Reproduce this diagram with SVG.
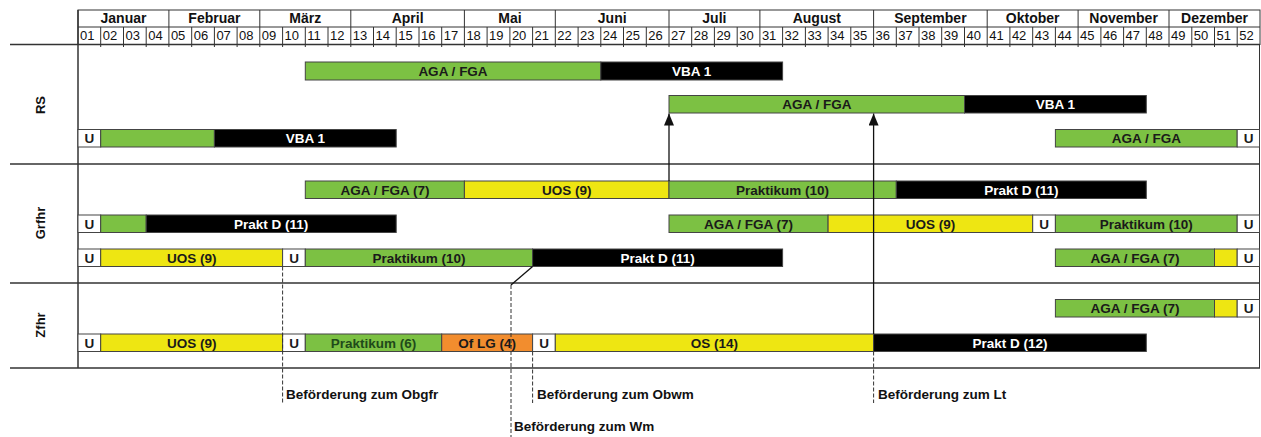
<svg xmlns="http://www.w3.org/2000/svg" width="1261" height="437" viewBox="0 0 1261 437">
<style>
.bg{fill:#ffffff}
.grid{stroke:#333;stroke-width:1;fill:none}
.sec{stroke:#333;stroke-width:1.5;fill:none}
.mon{font-family:"Liberation Sans",Arial,sans-serif;font-weight:bold;font-size:14px;fill:#111;text-anchor:middle}
.wk{font-family:"Liberation Sans",Arial,sans-serif;font-size:13px;fill:#111}
.lbl{font-family:"Liberation Sans",Arial,sans-serif;font-weight:bold;font-size:13px;fill:#111;text-anchor:middle}
.g{fill:#7cc143;stroke:#444;stroke-width:1}
.y{fill:#eee612;stroke:#444;stroke-width:1}
.k{fill:#000;stroke:#444;stroke-width:1}
.o{fill:#f28d2e;stroke:#444;stroke-width:1}
.u{fill:#fff;stroke:#444;stroke-width:1}
.t{font-family:"Liberation Sans",Arial,sans-serif;font-weight:bold;font-size:13.5px;fill:#1a1a1a;text-anchor:middle}
.tw{font-family:"Liberation Sans",Arial,sans-serif;font-weight:bold;font-size:13.5px;fill:#fff;text-anchor:middle}
.tg{font-family:"Liberation Sans",Arial,sans-serif;font-weight:bold;font-size:13.5px;fill:#1f4a1a;text-anchor:middle}
.con{stroke:#111;stroke-width:1.3;fill:none}
.dash{stroke:#333;stroke-width:1;fill:none;stroke-dasharray:4 2}
.note{font-family:"Liberation Sans",Arial,sans-serif;font-weight:bold;font-size:13.5px;fill:#111}
</style>
<defs>
<marker id="arr" markerWidth="12" markerHeight="10" refX="12" refY="5" orient="auto" markerUnits="userSpaceOnUse" viewBox="0 0 12 10">
<path d="M0,0 L12,5 L0,10 Z" fill="#111"/>
</marker>
</defs>
<rect class="bg" x="0" y="0" width="1261" height="437"/>

<g id="header">
<rect class="grid" x="78" y="10" width="1182" height="34.5"/>
<line class="grid" x1="78" y1="27" x2="1260" y2="27"/>
<g class="grid">
<line x1="168.9" y1="10" x2="168.9" y2="44.5"/><line x1="259.8" y1="10" x2="259.8" y2="44.5"/><line x1="350.8" y1="10" x2="350.8" y2="44.5"/><line x1="464.4" y1="10" x2="464.4" y2="44.5"/><line x1="555.3" y1="10" x2="555.3" y2="44.5"/><line x1="669" y1="10" x2="669" y2="44.5"/><line x1="759.9" y1="10" x2="759.9" y2="44.5"/><line x1="873.6" y1="10" x2="873.6" y2="44.5"/><line x1="987.2" y1="10" x2="987.2" y2="44.5"/><line x1="1078.1" y1="10" x2="1078.1" y2="44.5"/><line x1="1169" y1="10" x2="1169" y2="44.5"/>
<line x1="100.7" y1="27" x2="100.7" y2="47"/><line x1="123.5" y1="27" x2="123.5" y2="47"/><line x1="146.2" y1="27" x2="146.2" y2="47"/><line x1="191.7" y1="27" x2="191.7" y2="47"/><line x1="214.4" y1="27" x2="214.4" y2="47"/><line x1="237.1" y1="27" x2="237.1" y2="47"/><line x1="282.6" y1="27" x2="282.6" y2="47"/><line x1="305.3" y1="27" x2="305.3" y2="47"/><line x1="328" y1="27" x2="328" y2="47"/><line x1="373.5" y1="27" x2="373.5" y2="47"/><line x1="396.2" y1="27" x2="396.2" y2="47"/><line x1="419" y1="27" x2="419" y2="47"/><line x1="441.7" y1="27" x2="441.7" y2="47"/><line x1="487.1" y1="27" x2="487.1" y2="47"/><line x1="509.9" y1="27" x2="509.9" y2="47"/><line x1="532.6" y1="27" x2="532.6" y2="47"/><line x1="578.1" y1="27" x2="578.1" y2="47"/><line x1="600.8" y1="27" x2="600.8" y2="47"/><line x1="623.5" y1="27" x2="623.5" y2="47"/><line x1="646.3" y1="27" x2="646.3" y2="47"/><line x1="691.7" y1="27" x2="691.7" y2="47"/><line x1="714.4" y1="27" x2="714.4" y2="47"/><line x1="737.2" y1="27" x2="737.2" y2="47"/><line x1="782.6" y1="27" x2="782.6" y2="47"/><line x1="805.4" y1="27" x2="805.4" y2="47"/><line x1="828.1" y1="27" x2="828.1" y2="47"/><line x1="850.8" y1="27" x2="850.8" y2="47"/><line x1="896.3" y1="27" x2="896.3" y2="47"/><line x1="919" y1="27" x2="919" y2="47"/><line x1="941.7" y1="27" x2="941.7" y2="47"/><line x1="964.5" y1="27" x2="964.5" y2="47"/><line x1="1009.9" y1="27" x2="1009.9" y2="47"/><line x1="1032.7" y1="27" x2="1032.7" y2="47"/><line x1="1055.4" y1="27" x2="1055.4" y2="47"/><line x1="1100.9" y1="27" x2="1100.9" y2="47"/><line x1="1123.6" y1="27" x2="1123.6" y2="47"/><line x1="1146.3" y1="27" x2="1146.3" y2="47"/><line x1="1191.8" y1="27" x2="1191.8" y2="47"/><line x1="1214.5" y1="27" x2="1214.5" y2="47"/><line x1="1237.2" y1="27" x2="1237.2" y2="47"/>
<line x1="168.9" y1="44.5" x2="168.9" y2="47"/><line x1="259.8" y1="44.5" x2="259.8" y2="47"/><line x1="350.8" y1="44.5" x2="350.8" y2="47"/><line x1="464.4" y1="44.5" x2="464.4" y2="47"/><line x1="555.3" y1="44.5" x2="555.3" y2="47"/><line x1="669" y1="44.5" x2="669" y2="47"/><line x1="759.9" y1="44.5" x2="759.9" y2="47"/><line x1="873.6" y1="44.5" x2="873.6" y2="47"/><line x1="987.2" y1="44.5" x2="987.2" y2="47"/><line x1="1078.1" y1="44.5" x2="1078.1" y2="47"/><line x1="1169" y1="44.5" x2="1169" y2="47"/>
</g>
<text class="mon" x="123.5" y="23">Januar</text><text class="mon" x="214.4" y="23">Februar</text><text class="mon" x="305.3" y="23">März</text><text class="mon" x="407.6" y="23">April</text><text class="mon" x="509.9" y="23">Mai</text><text class="mon" x="612.2" y="23">Juni</text><text class="mon" x="714.4" y="23">Juli</text><text class="mon" x="816.8" y="23">August</text><text class="mon" x="930.4" y="23">September</text><text class="mon" x="1032.7" y="23">Oktober</text><text class="mon" x="1123.6" y="23">November</text><text class="mon" x="1214.5" y="23">Dezember</text>
<g class="wk">
<text x="80" y="40">01</text><text x="102.7" y="40">02</text><text x="125.5" y="40">03</text><text x="148.2" y="40">04</text><text x="170.9" y="40">05</text><text x="193.7" y="40">06</text><text x="216.4" y="40">07</text><text x="239.1" y="40">08</text><text x="261.8" y="40">09</text><text x="284.6" y="40">10</text><text x="307.3" y="40">11</text><text x="330" y="40">12</text><text x="352.8" y="40">13</text><text x="375.5" y="40">14</text><text x="398.2" y="40">15</text><text x="421" y="40">16</text><text x="443.7" y="40">17</text><text x="466.4" y="40">18</text><text x="489.1" y="40">19</text><text x="511.9" y="40">20</text><text x="534.6" y="40">21</text><text x="557.3" y="40">22</text><text x="580.1" y="40">23</text><text x="602.8" y="40">24</text><text x="625.5" y="40">25</text><text x="648.3" y="40">26</text><text x="671" y="40">27</text><text x="693.7" y="40">28</text><text x="716.4" y="40">29</text><text x="739.2" y="40">30</text><text x="761.9" y="40">31</text><text x="784.6" y="40">32</text><text x="807.4" y="40">33</text><text x="830.1" y="40">34</text><text x="852.8" y="40">35</text><text x="875.6" y="40">36</text><text x="898.3" y="40">37</text><text x="921" y="40">38</text><text x="943.7" y="40">39</text><text x="966.5" y="40">40</text><text x="989.2" y="40">41</text><text x="1011.9" y="40">42</text><text x="1034.7" y="40">43</text><text x="1057.4" y="40">44</text><text x="1080.1" y="40">45</text><text x="1102.9" y="40">46</text><text x="1125.6" y="40">47</text><text x="1148.3" y="40">48</text><text x="1171" y="40">49</text><text x="1193.8" y="40">50</text><text x="1216.5" y="40">51</text><text x="1239.2" y="40">52</text>
</g>
</g>

<g id="frame">
<line class="sec" x1="10" y1="44.5" x2="1260" y2="44.5"/>
<line class="sec" x1="10" y1="164" x2="1260" y2="164"/>
<line class="sec" x1="10" y1="283" x2="1260" y2="283"/>
<line class="sec" x1="10" y1="368" x2="1260" y2="368"/>
<line class="sec" x1="78" y1="10" x2="78" y2="368"/>
<line class="grid" x1="1259.5" y1="44.5" x2="1259.5" y2="368"/>
</g>

<g id="lane-RS"><text class="lbl" transform="translate(45,105) rotate(-90)">RS</text></g>
<g id="lane-Grfhr"><text class="lbl" transform="translate(45,223) rotate(-90)">Grfhr</text></g>
<g id="lane-Zfhr"><text class="lbl" transform="translate(45,325) rotate(-90)">Zfhr</text></g>

<g id="rs-row1">
<rect class="g" x="305.3" y="62" width="295.5" height="18"/><text class="t" x="453" y="75.5">AGA / FGA</text>
<rect class="k" x="600.8" y="62" width="181.8" height="18"/><text class="tw" x="691.7" y="75.5">VBA 1</text>
</g>
<g id="rs-row2">
<rect class="g" x="669" y="95.5" width="295.5" height="17.5"/><text class="t" x="816.8" y="109">AGA / FGA</text>
<rect class="k" x="964.5" y="95.5" width="181.8" height="17.5"/><text class="tw" x="1055.4" y="109">VBA 1</text>
</g>
<g id="rs-row3">
<rect class="u" x="78" y="129.5" width="22.7" height="17.5"/><text class="t" x="89.4" y="143">U</text>
<rect class="g" x="100.7" y="129.5" width="113.7" height="17.5"/>
<rect class="k" x="214.4" y="129.5" width="181.8" height="17.5"/><text class="tw" x="305.3" y="143">VBA 1</text>
<rect class="g" x="1055.4" y="129.5" width="181.8" height="17.5"/><text class="t" x="1146.3" y="143">AGA / FGA</text>
<rect class="u" x="1237.2" y="129.5" width="22.3" height="17.5"/><text class="t" x="1248.6" y="143">U</text>
</g>

<g id="grfhr-row1">
<rect class="g" x="305.3" y="181" width="159.1" height="17.5"/><text class="t" x="384.9" y="194.5">AGA / FGA (7)</text>
<rect class="y" x="464.4" y="181" width="204.6" height="17.5"/><text class="t" x="566.7" y="194.5">UOS (9)</text>
<rect class="g" x="669" y="181" width="227.3" height="17.5"/><text class="t" x="782.6" y="194.5">Praktikum (10)</text>
<rect class="k" x="896.3" y="181" width="250" height="17.5"/><text class="tw" x="1021.3" y="194.5">Prakt D (11)</text>
</g>
<g id="grfhr-row2">
<rect class="u" x="78" y="215" width="22.7" height="17.5"/><text class="t" x="89.4" y="228.5">U</text>
<rect class="g" x="100.7" y="215" width="45.5" height="17.5"/>
<rect class="k" x="146.2" y="215" width="250" height="17.5"/><text class="tw" x="271.2" y="228.5">Prakt D (11)</text>
<rect class="g" x="669" y="215" width="159.1" height="17.5"/><text class="t" x="748.5" y="228.5">AGA / FGA (7)</text>
<rect class="y" x="828.1" y="215" width="204.6" height="17.5"/><text class="t" x="930.4" y="228.5">UOS (9)</text>
<rect class="u" x="1032.7" y="215" width="22.7" height="17.5"/><text class="t" x="1044" y="228.5">U</text>
<rect class="g" x="1055.4" y="215" width="181.8" height="17.5"/><text class="t" x="1146.3" y="228.5">Praktikum (10)</text>
<rect class="u" x="1237.2" y="215" width="22.3" height="17.5"/><text class="t" x="1248.6" y="228.5">U</text>
</g>
<g id="grfhr-row3">
<rect class="u" x="78" y="249" width="22.7" height="17.5"/><text class="t" x="89.4" y="262.5">U</text>
<rect class="y" x="100.7" y="249" width="181.9" height="17.5"/><text class="t" x="191.7" y="262.5">UOS (9)</text>
<rect class="u" x="282.6" y="249" width="22.7" height="17.5"/><text class="t" x="294" y="262.5">U</text>
<rect class="g" x="305.3" y="249" width="227.3" height="17.5"/><text class="t" x="419" y="262.5">Praktikum (10)</text>
<rect class="k" x="532.6" y="249" width="250" height="17.5"/><text class="tw" x="657.6" y="262.5">Prakt D (11)</text>
<rect class="g" x="1055.4" y="249" width="159.1" height="17.5"/><text class="t" x="1135" y="262.5">AGA / FGA (7)</text>
<rect class="y" x="1214.5" y="249" width="22.7" height="17.5"/>
<rect class="u" x="1237.2" y="249" width="22.3" height="17.5"/><text class="t" x="1248.6" y="262.5">U</text>
</g>

<g id="zfhr-row1">
<rect class="g" x="1055.4" y="299.5" width="159.1" height="17.5"/><text class="t" x="1135" y="313">AGA / FGA (7)</text>
<rect class="y" x="1214.5" y="299.5" width="22.7" height="17.5"/>
<rect class="u" x="1237.2" y="299.5" width="22.3" height="17.5"/><text class="t" x="1248.6" y="313">U</text>
</g>
<g id="zfhr-row2">
<rect class="u" x="78" y="334" width="22.7" height="17.5"/><text class="t" x="89.4" y="347.5">U</text>
<rect class="y" x="100.7" y="334" width="181.9" height="17.5"/><text class="t" x="191.7" y="347.5">UOS (9)</text>
<rect class="u" x="282.6" y="334" width="22.7" height="17.5"/><text class="t" x="294" y="347.5">U</text>
<rect class="g" x="305.3" y="334" width="136.4" height="17.5"/><text class="tg" x="373.5" y="347.5">Praktikum (6)</text>
<rect class="o" x="441.7" y="334" width="90.9" height="17.5"/><text class="t" x="487.1" y="347.5">Of LG (4)</text>
<rect class="u" x="532.6" y="334" width="22.7" height="17.5"/><text class="t" x="544" y="347.5">U</text>
<rect class="y" x="555.3" y="334" width="318.3" height="17.5"/><text class="t" x="714.4" y="347.5">OS (14)</text>
<rect class="k" x="873.6" y="334" width="272.7" height="17.5"/><text class="tw" x="1010" y="347.5">Prakt D (12)</text>
</g>

<g id="connectors">
<line class="con" x1="669" y1="181" x2="669" y2="113.5" marker-end="url(#arr)"/>
<line class="con" x1="873.6" y1="334" x2="873.6" y2="113.5" marker-end="url(#arr)"/>
<line class="dash" x1="282.6" y1="266.5" x2="282.6" y2="403"/>
<line class="dash" x1="532.6" y1="351.5" x2="532.6" y2="403"/>
<line class="dash" x1="873.6" y1="351.5" x2="873.6" y2="403"/>
<line class="con" x1="532.6" y1="266.5" x2="511" y2="285"/>
<line class="dash" x1="511" y1="285" x2="511" y2="437"/>
</g>

<g id="notes">
<text class="note" x="286" y="399">Beförderung zum Obgfr</text>
<text class="note" x="537" y="399">Beförderung zum Obwm</text>
<text class="note" x="878" y="399">Beförderung zum Lt</text>
<text class="note" x="514" y="431">Beförderung zum Wm</text>
</g>
</svg>
